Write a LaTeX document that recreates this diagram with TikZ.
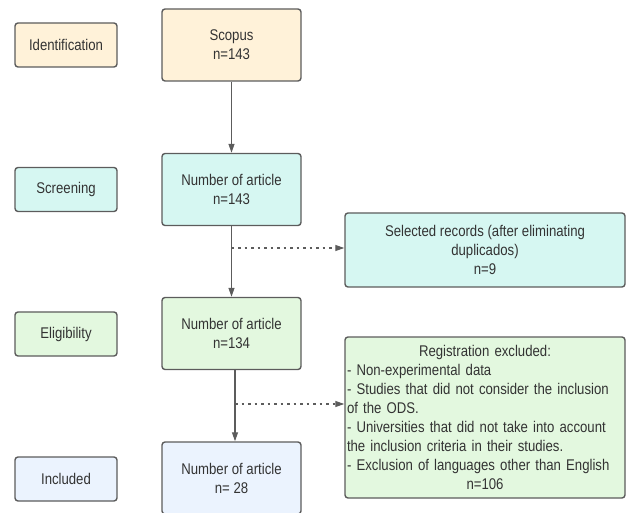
\documentclass[tikz,border=0pt]{standalone}
\usepackage{fontspec}
\setmainfont{Liberation Sans}[FakeStretch=0.85]
\usetikzlibrary{arrows.meta}
\definecolor{idfill}{HTML}{FFF2D9}
\definecolor{scfill}{HTML}{D6F7F2}
\definecolor{elfill}{HTML}{E3F8DF}
\definecolor{infill}{HTML}{EBF3FE}
\definecolor{edge}{HTML}{5C5C5C}
\definecolor{ink}{HTML}{333333}

\begin{document}
\begin{tikzpicture}[x=1pt,y=-1pt,
    box/.style={draw=edge,line width=1.4pt,rounded corners=3pt,align=center,
        text=ink,font=\fontsize{15.5}{19}\selectfont,inner sep=1pt},
    phase/.style={box,minimum width=102pt,minimum height=44pt},
    count/.style={box,minimum width=139pt,minimum height=72pt},
    note/.style={box,minimum width=280pt},
    flow/.style={draw=edge,line width=1.2pt,-{Triangle[length=9pt,width=6pt]}},
    skip/.style={flow,dash pattern=on 2.5pt off 4pt}]
            \useasboundingbox (0,0) rectangle (627,513);

            \node[phase,fill=idfill] (ident) at (66,45) {Identification};
            \node[phase,fill=scfill] (screen) at (66,189.5) {Screening};
            \node[phase,fill=elfill] (elig) at (66,334) {Eligibility};
            \node[phase,fill=infill] (incl) at (66,479) {Included};

            \node[count,fill=idfill] (scopus) at (231.5,45) {Scopus\\n=143};
            \node[count,fill=scfill] (art1) at (231.5,189.5) {Number of article\\n=143};
            \node[count,fill=elfill] (art2) at (231.5,333.5) {Number of article\\n=134};
            \node[count,fill=infill] (art3) at (231.5,478) {Number of article\\n= 28};

            \node[note,fill=scfill,minimum height=74pt] (dup) at (485,250)
                {Selected records (after eliminating\\duplicados)\\n=9};
            \node[note,fill=elfill,minimum height=161pt,text width=276pt,align=left] (excl) at (485,417.5)
                {\hfill Registration excluded:\hfill\null\\
                 - Non-experimental data\\
                 - Studies that did not consider the inclusion\\
                 of the ODS.\\
                 - Universities that did not take into account\\
                 the inclusion criteria in their studies.\\
                 - Exclusion of languages other than English\\
                 \hfill n=106\hfill\null};

            \draw[flow] (scopus) -- (art1);
            \draw[flow] (art1) -- (art2);
            \draw[flow] ([xshift=3.5pt]art2.south) -- ([xshift=3.5pt]art3.north);

            \coordinate (tap1) at (231.5,248);
            \coordinate (tap2) at (235,404);
            \draw[skip] (tap1) -- (tap1 -| dup.west);
            \draw[skip] (tap2) -- (tap2 -| excl.west);
\end{tikzpicture}
\end{document}
